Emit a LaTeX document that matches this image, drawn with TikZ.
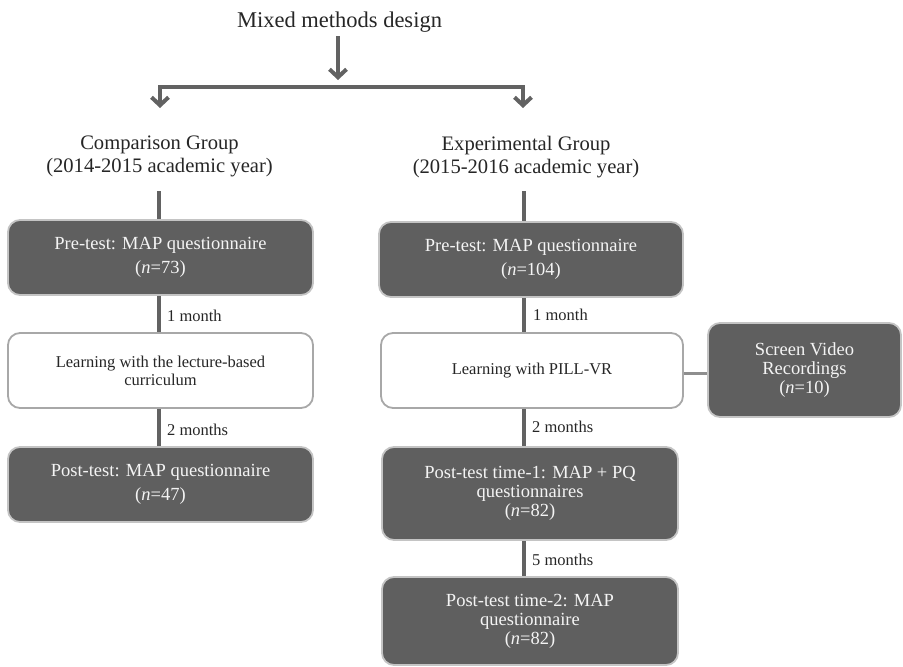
\documentclass[tikz,border=0pt]{standalone}
\usepackage{fontspec}
\setmainfont{Liberation Serif}
\usetikzlibrary{arrows.meta,backgrounds}
\definecolor{boxdark}{HTML}{5F5F5F}
\definecolor{boxedge}{HTML}{C4C4C4}
\definecolor{lineg}{HTML}{626262}
\definecolor{sideg}{HTML}{8E8E8E}
\definecolor{whiteedge}{HTML}{A8A8A8}
\definecolor{txtlight}{HTML}{F4F4F4}
\definecolor{txtdark}{HTML}{262626}
\begin{document}
\begin{tikzpicture}[x=1pt,y=-1pt,
  darkbox/.style={draw=boxedge, line width=1.8pt, fill=boxdark, rounded corners=12pt,
    text=txtlight, align=center, inner sep=0pt},
  lightbox/.style={draw=whiteedge, line width=1.8pt, fill=white, rounded corners=12pt,
    text=txtdark, align=center, inner sep=0pt},
  conn/.style={draw=lineg, line width=4pt},
  barb/.style={-{Straight Barb[length=8pt,width=17pt]}},
  gaplabel/.style={anchor=base west, inner sep=0pt, text=txtdark,
    font=\fontsize{16.5}{18}\selectfont},
  grouplabel/.style={align=center, inner sep=0pt, text=txtdark,
    font=\fontsize{20.6}{23}\selectfont},
  twoline/.style={font=\fontsize{18.5}{23.5}\selectfont},
  threeline/.style={font=\fontsize{18.5}{19}\selectfont},
  lighttext/.style={font=\fontsize{16.5}{18}\selectfont}
]
\useasboundingbox (0,0) rectangle (903,667);

% coordinates
\coordinate (barC) at (338,87);
\coordinate (tipL) at (160,108);
\coordinate (tipR) at (523,108);
\coordinate (spineL) at (159,0);
\coordinate (spineR) at (524,0);

% title and group labels
\node[anchor=base, inner sep=0pt, text=txtdark, font=\fontsize{22.5}{27}\selectfont]
  (title) at (339.5,27) {Mixed methods design};
\node[grouplabel] (grpL) at (159.5,156.8) {Comparison Group\\(2014-2015 academic year)};
\node[grouplabel] (grpR) at (526,156.8) {Experimental Group\\(2015-2016 academic year)};

% left column
\node[darkbox, twoline, minimum width=305pt, minimum height=75pt] (preL) at (160.5,257.5)
  {Pre-test: MAP questionnaire\\(\textit{n}=73)};
\node[lightbox, lighttext, minimum width=305pt, minimum height=75pt] (learnL) at (160.5,370.5)
  {Learning with the lecture-based\\curriculum};
\node[darkbox, twoline, minimum width=305pt, minimum height=75pt] (postL) at (160.5,484.5)
  {Post-test: MAP questionnaire\\(\textit{n}=47)};

% right column
\node[darkbox, twoline, minimum width=304pt, minimum height=75pt] (preR) at (531,259.5)
  {Pre-test: MAP questionnaire\\(\textit{n}=104)};
\node[lightbox, lighttext, minimum width=302pt, minimum height=75pt] (learnR) at (532,370.5)
  {Learning with PILL-VR};
\node[darkbox, threeline, minimum width=296pt, minimum height=93pt] (post1R) at (530,493.5)
  {Post-test time-1: MAP + PQ\\questionnaires\\(\textit{n}=82)};
\node[darkbox, threeline, minimum width=296pt, minimum height=88pt] (post2R) at (530,621)
  {Post-test time-2: MAP\\questionnaire\\(\textit{n}=82)};
\node[darkbox, threeline, minimum width=193pt, minimum height=94pt] (screen) at (804.5,370)
  {Screen Video\\Recordings\\(\textit{n}=10)};

% gap labels
\node[gaplabel] (m1L) at (167,321) {1 month};
\node[gaplabel] (m2L) at (167,435) {2 months};
\node[gaplabel] (m1R) at (533,320) {1 month};
\node[gaplabel] (m2R) at (532,432) {2 months};
\node[gaplabel] (m5R) at (532,565) {5 months};

\begin{scope}[on background layer]
  \draw[conn, barb, shorten <=4pt, shorten >=7pt] (title.south -| barC) -- (barC);
  \draw[conn, {Straight Barb[length=8pt,width=17pt]}-{Straight Barb[length=8pt,width=17pt]}]
    (tipL) -- (tipL |- barC) -- (tipR |- barC) -- (tipR);
  \draw[conn, shorten <=13.5pt] (spineL |- grpL.south) -- (spineL |- preL.north);
  \draw[conn, shorten <=13.5pt] (spineR |- grpR.south) -- (spineR |- preR.north);
  \draw[conn] (spineL |- preL.south) -- (spineL |- learnL.north);
  \draw[conn] (spineL |- learnL.south) -- (spineL |- postL.north);
  \draw[conn] (spineR |- preR.south) -- (spineR |- learnR.north);
  \draw[conn] (spineR |- learnR.south) -- (spineR |- post1R.north);
  \draw[conn] (spineR |- post1R.south) -- (spineR |- post2R.north);
  \draw[draw=sideg, line width=3pt] ([yshift=-2.5pt]learnR.east) -- ([yshift=-2.5pt]screen.west |- learnR.east);
\end{scope}
\end{tikzpicture}
\end{document}
